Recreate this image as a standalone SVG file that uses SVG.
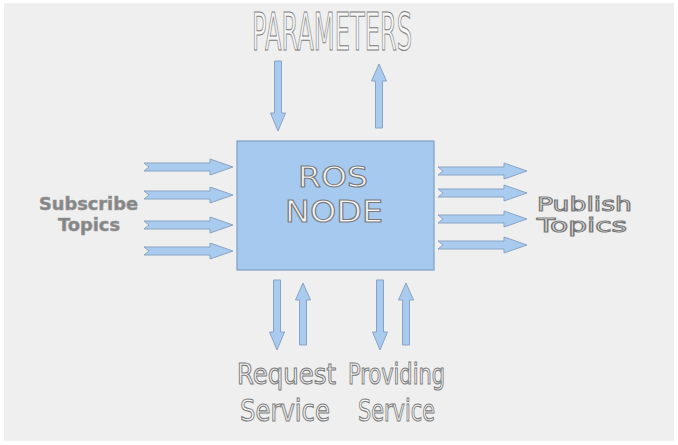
<svg xmlns="http://www.w3.org/2000/svg" xmlns:xlink="http://www.w3.org/1999/xlink" width="678" height="445" viewBox="0 0 678 445">
<style>
.arrow{fill:#a8cbef;stroke:#8aa3c2;stroke-width:1}
.outline{fill:#f6f6f6;stroke:#7a7a7a;stroke-width:1.1;font-family:"DejaVu Sans","Liberation Sans",sans-serif}
.box{fill:#a6c9ef;stroke:#809fc2;stroke-width:1.2}
.side{fill:#858585;stroke:#9a9a9a;stroke-width:0.6;font-family:"DejaVu Sans","Liberation Sans",sans-serif;font-weight:bold}
</style>
<defs>
<path id="harrow" d="M0,-4 L66,-4 L66,-8 L89,0 L66,8 L66,4 L0,4 L5,0 Z"/>
</defs>
<rect x="0" y="0" width="678" height="445" fill="#ffffff"/>
<rect x="4" y="3" width="670" height="438" fill="#efefef"/>
<g id="connectors">
<use xlink:href="#harrow" class="arrow" transform="translate(144,167)"/>
<use xlink:href="#harrow" class="arrow" transform="translate(144,195)"/>
<use xlink:href="#harrow" class="arrow" transform="translate(144,225)"/>
<use xlink:href="#harrow" class="arrow" transform="translate(144,251)"/>
<use xlink:href="#harrow" class="arrow" transform="translate(438,171)"/>
<use xlink:href="#harrow" class="arrow" transform="translate(438,193)"/>
<use xlink:href="#harrow" class="arrow" transform="translate(438,219)"/>
<use xlink:href="#harrow" class="arrow" transform="translate(438,245)"/>
<path class="arrow" d="M274.5,61 H281.5 V113 H285.5 L278,131 L270.5,113 H274.5 Z"/>
<path class="arrow" d="M379,64 L386.5,81 H382.5 V128 H375.5 V81 H371.5 Z"/>
<path class="arrow" d="M273.5,280 H280.5 V332 H284.5 L277,350 L269.5,332 H273.5 Z"/>
<path class="arrow" d="M303,283 L310.5,300 H306.5 V345 H299.5 V300 H295.5 Z"/>
<path class="arrow" d="M376.5,280 H383.5 V332 H387.5 L380,350 L372.5,332 H376.5 Z"/>
<path class="arrow" d="M406,283 L413.5,300 H409.5 V345 H402.5 V300 H398.5 Z"/>
</g>
<g id="ros-node">
<rect class="box" x="237" y="141" width="197" height="129"/>
<text class="outline" x="298" y="187" font-size="29" textLength="70" lengthAdjust="spacingAndGlyphs">ROS</text>
<text class="outline" x="285" y="222" font-size="30" textLength="98" lengthAdjust="spacingAndGlyphs">NODE</text>
</g>
<g id="parameters">
<text class="outline" x="252" y="50" font-size="51" textLength="160" lengthAdjust="spacingAndGlyphs">PARAMETERS</text>
</g>
<g id="subscribe-topics">
<text class="side" x="39" y="210" font-size="18" textLength="99" lengthAdjust="spacingAndGlyphs">Subscribe</text>
<text class="side" x="58" y="231" font-size="18" textLength="62" lengthAdjust="spacingAndGlyphs">Topics</text>
</g>
<g id="publish-topics">
<text class="outline" x="537" y="211" font-size="19" textLength="95" lengthAdjust="spacingAndGlyphs">Publish</text>
<text class="outline" x="537" y="232" font-size="19" textLength="90" lengthAdjust="spacingAndGlyphs">Topics</text>
</g>
<g id="request-service">
<text class="outline" x="237" y="384" font-size="29" textLength="99" lengthAdjust="spacingAndGlyphs">Request</text>
<text class="outline" x="240" y="421" font-size="31" textLength="90" lengthAdjust="spacingAndGlyphs">Service</text>
</g>
<g id="providing-service">
<text class="outline" x="348" y="384" font-size="29" textLength="97" lengthAdjust="spacingAndGlyphs">Providing</text>
<text class="outline" x="358" y="421" font-size="31" textLength="77" lengthAdjust="spacingAndGlyphs">Service</text>
</g>
</svg>
